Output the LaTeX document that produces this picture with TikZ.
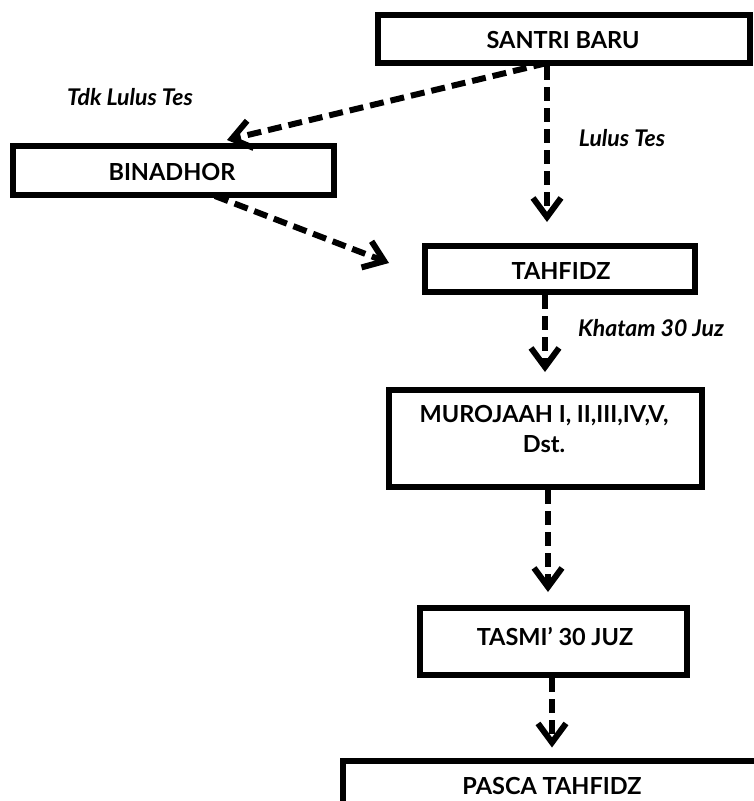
\documentclass[tikz,border=0pt]{standalone}
\usepackage{fontspec}
\setmainfont{Lato}
\usetikzlibrary{arrows.meta}
\begin{document}
\begin{tikzpicture}[x=1pt,y=-1pt,
  box/.style={draw=black,line width=6pt,rectangle,inner sep=0pt,fill=white},
  boxtext/.style={font=\fontsize{23.5}{30}\selectfont\bfseries,align=center,inner sep=0pt},
  lbl/.style={font=\fontsize{23}{27}\selectfont\bfseries\itshape,inner sep=0pt},
  flow/.style={line width=6pt,dash pattern=on 14pt off 7pt,-{Straight Barb[length=19pt,width=28pt]}}]
\clip (0,0) rectangle (754,801);
\fill[white] (0,0) rectangle (754,801);
% boxes
\node[box,minimum width=372pt,minimum height=48.5pt] (santri) at (564,38.75) {};
\node[boxtext] (santriT) at (563,40) {SANTRI BARU};
\node[box,minimum width=321pt,minimum height=49pt] (binadhor) at (173.5,170.5) {};
\node[boxtext] (binadhorT) at (172,172) {BINADHOR};
\node[box,minimum width=270pt,minimum height=46pt] (tahfidz) at (560,269) {};
\node[boxtext] (tahfidzT) at (561,271) {TAHFIDZ};
\node[box,minimum width=313pt,minimum height=97pt] (murojaah) at (545.5,438.5) {};
\node[boxtext,anchor=north] (murojaahT) at (544,405) {MUROJAAH I, II,III,IV,V,\\Dst.};
\node[box,minimum width=267pt,minimum height=67pt] (tasmi) at (553.5,641.5) {};
\node[boxtext] (tasmiT) at (555,637) {TASMI’ 30 JUZ};
\node[box,anchor=north west,minimum width=500pt,minimum height=120pt] (pasca) at (340,757.5) {};
\begin{scope}
\clip (0,0) rectangle (754,794);
\node[boxtext,anchor=north] (pascaT) at (552,777) {PASCA TAHFIDZ};
\end{scope}
% coordinates
\coordinate (sBot) at (547,63);
\coordinate (tipBin) at (227,140);
\coordinate (bBot) at (215,196);
\coordinate (tipTah) at (389,263);
% connectors
\draw[flow] (sBot) -- (tipBin);
\draw[flow] (santri.south -| sBot) -- ([yshift=21pt]tahfidz.north -| sBot);
\draw[flow] (bBot) -- (tipTah);
\draw[flow] (tahfidz.south -| 545,0) -- ([yshift=15pt]murojaah.north -| 545,0);
\draw[flow] (murojaah.south -| 548,0) -- ([yshift=13pt]tasmi.north -| 548,0);
\draw[flow] (tasmi.south -| 552,0) -- ([yshift=10pt]pasca.north -| 552,0);
% labels
\node[lbl] (l1) at (130,97) {Tdk Lulus Tes};
\node[lbl] (l2) at (622,138) {Lulus Tes};
\node[lbl] (l3) at (651,328) {Khatam 30 Juz};
\end{tikzpicture}
\end{document}
